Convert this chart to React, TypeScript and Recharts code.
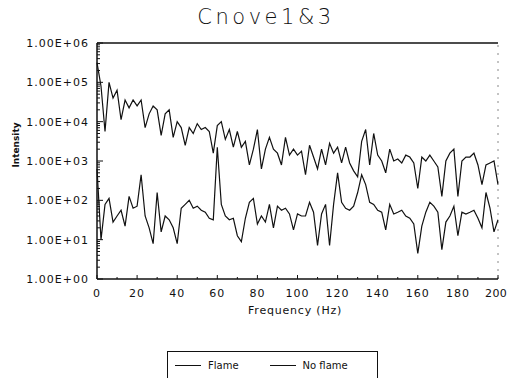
import { LineChart, Line, XAxis, YAxis, ReferenceLine } from 'recharts';

// Spectrum intensity, sampled every 2 Hz from 0 to 200 Hz
const FREQ_STEP_HZ = 2;

const SERIES_NAMES = ['Flame', 'No flame'];

const FLAME = [
  316000, 79400, 5620, 100000, 39800, 63100, 11200, 35500, 22400, 35500,
  25100, 35500, 7080, 15800, 25100, 20000, 4470, 15800, 20000, 3980,
  10000, 7080, 2510, 7080, 5010, 8910, 6310, 7080, 5620, 1580,
  7940, 10000, 3550, 6310, 2240, 5620, 2240, 3160, 794, 2000,
  6310, 631, 2000, 3980, 2000, 1580, 794, 3980, 1410, 2000,
  1410, 1780, 447, 2510, 1260, 631, 2000, 794, 2820, 1580,
  2240, 891, 2240, 891, 562, 398, 3160, 6310, 794, 5010,
  1410, 1000, 501, 2000, 1000, 1120, 891, 1410, 1260, 891,
  200, 1260, 1000, 1410, 1000, 708, 126, 1000, 1580, 2000,
  126, 1000, 1260, 1260, 1580, 794, 251, 794, 891, 1000,
  251,
];

const NO_FLAME = [
  631, 10, 79, 112, 28, 40, 56, 22, 126, 63,
  71, 447, 40, 20, 7.9, 158, 15.8, 40, 32, 20,
  7.9, 63, 79, 100, 63, 71, 56, 50, 35, 32,
  2240, 79, 40, 32, 35, 12.6, 8.9, 35, 89, 112,
  25, 40, 28, 79, 20, 71, 56, 63, 45, 17.8,
  45, 40, 40, 89, 50, 7.1, 45, 79, 7.1, 79,
  501, 89, 63, 56, 71, 158, 447, 251, 89, 79,
  56, 50, 17.8, 79, 45, 50, 56, 40, 35, 25,
  4.5, 22, 50, 89, 71, 50, 5.6, 28, 40, 71,
  12.6, 50, 45, 50, 56, 35, 20, 158, 63, 15.8,
  32,
];

const X_TICKS = [0, 10, 20, 30, 40, 50, 60, 70, 80, 90, 100, 110, 120, 130, 140, 150, 160, 170, 180, 190, 200];
const Y_DECADES = [1, 10, 100, 1000, 10000, 100000, 1000000];
const Y_LABELS = ['1.00E+00', '1.00E+01', '1.00E+02', '1.00E+03', '1.00E+04', '1.00E+05', '1.00E+06'];

const data = FLAME.map((v, i) => ({
  hz: i * FREQ_STEP_HZ,
  flame: v,
  noFlame: NO_FLAME[i],
}));

// log axis: every integer multiple inside each decade gets a tick
const yTicks = Y_DECADES.flatMap((d, i) =>
  i === Y_DECADES.length - 1 ? [d] : [1, 2, 3, 4, 5, 6, 7, 8, 9].map((m) => m * d)
);

const INK = '#111';
const FONT = "'DejaVu Sans', sans-serif";

function LogTick(props: any) {
  const { x, y, payload } = props;
  const idx = Y_DECADES.indexOf(payload.value);
  const axisX = x + 8;
  const major = idx >= 0;
  return (
    <g>
      <line x1={axisX} x2={axisX + (major ? 6 : 3)} y1={y} y2={y} stroke={INK} strokeWidth={1} />
      {major && (
        <text x={x} y={y} dy={4} textAnchor="end" fontSize={11} letterSpacing={1} fill={INK} fontFamily={FONT}>
          {Y_LABELS[idx]}
        </text>
      )}
    </g>
  );
}

function FreqTick(props: any) {
  const { x, y, payload } = props;
  const axisY = y - 8;
  const major = payload.value % 20 === 0;
  const last = payload.value === X_TICKS[X_TICKS.length - 1];
  return (
    <g>
      <line x1={x} x2={x} y1={axisY} y2={axisY - (major ? 4 : 2)} stroke={INK} strokeWidth={1} />
      {major && (
        <text
          x={last ? x + 9 : x}
          y={y}
          dy={10}
          textAnchor={last ? 'end' : 'middle'}
          fontSize={11}
          letterSpacing={last ? 0.3 : 1}
          fill={INK}
          fontFamily={FONT}
        >
          {payload.value}
        </text>
      )}
    </g>
  );
}

export default function App() {
  return (
    <div style={{ position: 'absolute', left: 0, top: 0, width: 507, height: 378, background: '#fff', fontFamily: FONT }}>
      <div
        style={{
          position: 'absolute',
          left: 0,
          width: 532,
          top: 5,
          textAlign: 'center',
          fontSize: 21,
          fontWeight: 200,
          letterSpacing: 3.5,
          color: INK,
        }}
      >
        Cnove1&amp;3
      </div>
      <div
        style={{
          position: 'absolute',
          left: 16,
          top: 145,
          transform: 'translate(-50%, -50%) rotate(-90deg)',
          fontSize: 9,
          fontWeight: 'bold',
          color: INK,
          whiteSpace: 'nowrap',
        }}
      >
        Intensity
      </div>
      <LineChart width={507} height={378} data={data} margin={{ top: 43, right: 9, bottom: 69, left: 7 }}>
        <XAxis
          dataKey="hz"
          type="number"
          domain={[0, 200]}
          ticks={X_TICKS}
          interval={0}
          tickLine={false}
          tick={<FreqTick />}
          axisLine={{ stroke: INK, strokeWidth: 1.5 }}
          height={30}
        />
        <YAxis
          scale="log"
          domain={[1, 1000000]}
          allowDataOverflow
          ticks={yTicks}
          interval={0}
          tickLine={false}
          tick={<LogTick />}
          axisLine={{ stroke: INK, strokeWidth: 1.5 }}
          width={90}
        />
        <ReferenceLine y={1000000} stroke={INK} strokeWidth={1.5} />
        <ReferenceLine x={200} stroke="#888" strokeDasharray="2 6" />
        <Line
          type="linear"
          dataKey="flame"
          name={SERIES_NAMES[0]}
          stroke={INK}
          strokeWidth={1.2}
          dot={false}
          isAnimationActive={false}
        />
        <Line
          type="linear"
          dataKey="noFlame"
          name={SERIES_NAMES[1]}
          stroke={INK}
          strokeWidth={1.2}
          dot={false}
          isAnimationActive={false}
        />
      </LineChart>
      <div
        style={{
          position: 'absolute',
          left: 248,
          top: 304,
          fontSize: 11,
          letterSpacing: 0.8,
          color: INK,
        }}
      >
        Frequency (Hz)
      </div>
      <div
        style={{
          position: 'absolute',
          left: 167,
          top: 351,
          width: 211,
          height: 32,
          border: `1px solid ${INK}`,
          boxSizing: 'border-box',
          display: 'flex',
          alignItems: 'flex-start',
          paddingTop: 8,
          paddingLeft: 7,
          fontSize: 10,
          color: INK,
        }}
      >
        {SERIES_NAMES.map((name, i) => (
          <div key={name} style={{ display: 'flex', alignItems: 'center', marginRight: i === 0 ? 31 : 0 }}>
            <span style={{ display: 'inline-block', width: 26, borderTop: `1px solid ${INK}`, marginRight: 7 }} />
            <span>{name}</span>
          </div>
        ))}
      </div>
    </div>
  );
}
